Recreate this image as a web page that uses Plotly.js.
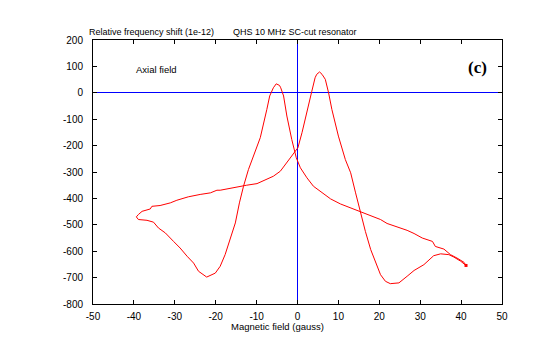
<!DOCTYPE html>
<html>
<head>
<meta charset="utf-8">
<script src="https://cdn.plot.ly/plotly-3.0.1.min.js"></script>
<style>html,body{margin:0;padding:0;background:#fff;}#chart{width:540px;height:355px;}</style>
</head>
<body>
<div id="chart"></div>
<script>
// Sweep with increasing field (from -40 G to +41 G)
var upX = [-39.4,-38.9,-36.8,-35.2,-34,-32.3,-30.3,-28.7,-27,-25.4,-24.2,-22.2,-20.1,-18.9,-17.7,-16.5,-15.2,-14.2,-13.2,-12,-10.5,-9.1,-7.5,-6.8,-5.9,-5.2,-4.4,-4.1,-3.4,-2.6,-1.4,-0.3,0.7,2.3,3.9,5.6,8.1,10.5,13,15,17.9,20.3,21.9,24.4,26.8,28.5,30.5,33,33.7,35.8,37.4,39,40.7,41.2];
var upY = [-470,-480,-483,-490,-512,-531,-563,-588,-619,-645,-676,-698,-683,-657,-613,-556,-493,-417,-354,-291,-230,-170,-63,-12,19,34,28,19,-12,-88,-177,-246,-284,-322,-354,-373,-402,-421,-436,-449,-464,-480,-495,-508,-521,-533,-550,-563,-582,-592,-613,-626,-642,-654];
// Sweep with decreasing field (from +41 G back to -40 G)
var downX = [41.2,39.9,38.2,37,35,33.3,30.9,28.5,26.8,24.8,22.7,21.5,20.3,19.1,17.9,16.6,15.4,14.2,13,11.7,10,8.4,7.6,6.8,6.0,5.4,4.7,4.3,3.5,2.3,1.1,0.1,-1.4,-2.6,-4.2,-5.9,-7.9,-9.9,-12.4,-15.6,-18.9,-19.7,-21.3,-23.8,-26.7,-29.5,-31.1,-33.6,-35.6,-36,-38,-38.9,-39.4];
var downY = [-654,-638,-622,-613,-610,-617,-651,-673,-695,-720,-723,-714,-689,-645,-594,-525,-455,-379,-303,-253,-164,-63,0,51,70,79,70,57,6,-76,-151,-208,-240,-265,-297,-316,-331,-344,-350,-360,-369,-369,-379,-385,-394,-407,-417,-427,-430,-440,-449,-461,-470];

var xTickVals = [-50,-40,-30,-20,-10,0,10,20,30,40,50];
var yTickVals = [-800,-700,-600,-500,-400,-300,-200,-100,0,100,200];

var traces = [
  {x: upX, y: upY, mode: 'lines', line: {color: '#ff0000', width: 1}, hoverinfo: 'skip'},
  {x: downX, y: downY, mode: 'lines', line: {color: '#ff0000', width: 1}, hoverinfo: 'skip'},
  {x: [upX[upX.length - 1]], y: [upY[upY.length - 1]], mode: 'markers', marker: {symbol: 'square', size: 3, color: '#ff0000'}, hoverinfo: 'skip'}
];

var axisCommon = {
  showgrid: false,
  zerolinecolor: '#0000ff',
  zerolinewidth: 1,
  showline: true,
  linecolor: '#000',
  linewidth: 1,
  mirror: 'ticks',
  ticks: 'inside',
  ticklen: 4,
  tickcolor: '#000',
  tickwidth: 1,
  tickfont: {family: 'Liberation Sans, Arial, sans-serif', size: 10, color: '#000'}
};

var layout = {
  width: 540, height: 355,
  margin: {l: 93, r: 38, t: 40, b: 51, pad: 0},
  paper_bgcolor: '#fff', plot_bgcolor: '#fff',
  showlegend: false,
  xaxis: Object.assign({}, axisCommon, {zeroline: false, range: [-50, 50], tickvals: xTickVals, ticktext: xTickVals.map(String), ticklabelstandoff: 3}),
  yaxis: Object.assign({}, axisCommon, {zeroline: true, range: [-800, 200], tickvals: yTickVals, ticktext: yTickVals.map(String), ticklabelstandoff: 7}),
  shapes: [
    {type: 'line', xref: 'x', yref: 'paper', x0: 0, x1: 0, y0: 0, y1: 1, layer: 'below', line: {color: '#0000ff', width: 1}}
  ],
  annotations: [
    {text: 'Relative frequency shift (1e-12)', xref: 'paper', yref: 'paper', x: -0.014, y: 1.03, xanchor: 'left', yanchor: 'middle', showarrow: false, font: {family: 'Liberation Sans, Arial, sans-serif', size: 9, color: '#000'}},
    {text: 'QHS 10 MHz SC-cut resonator', xref: 'paper', yref: 'paper', x: 0.337, y: 1.03, xanchor: 'left', yanchor: 'middle', showarrow: false, font: {family: 'Liberation Sans, Arial, sans-serif', size: 9, color: '#000'}},
    {text: 'Axial field', xref: 'x', yref: 'y', x: -40, y: 89, xanchor: 'left', yanchor: 'middle', showarrow: false, font: {family: 'Liberation Sans, Arial, sans-serif', size: 9.5, color: '#000'}},
    {text: '<b>(c)</b>', xref: 'x', yref: 'y', x: 44.1, y: 95, xanchor: 'center', yanchor: 'middle', showarrow: false, font: {family: 'Liberation Serif, Times New Roman, serif', size: 17, color: '#000'}},
    {text: 'Magnetic field (gauss)', xref: 'paper', yref: 'paper', x: 0.451, y: -0.085, xanchor: 'center', yanchor: 'middle', showarrow: false, font: {family: 'Liberation Sans, Arial, sans-serif', size: 9.5, color: '#000'}}
  ]
};

Plotly.newPlot('chart', traces, layout, {staticPlot: true, displayModeBar: false});
</script>
</body>
</html>
